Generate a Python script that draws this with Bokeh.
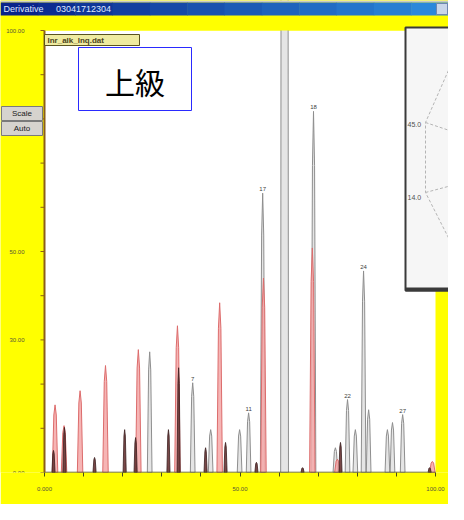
from bokeh.plotting import figure
from bokeh.models import Range1d, FixedTicker, ColumnDataSource
from bokeh.core.properties import value
from bokeh.embed import file_html
from bokeh.resources import INLINE

# ---------------- data ----------------
red_pos = [2.7, 5.0, 9.1, 15.6, 24.0, 34.0, 44.8, 56.0, 68.5, 74.9, 99.2]
red_height = [15.3, 10.6, 18.5, 24.2, 27.8, 33.2, 38.4, 44.0, 50.8, 3.0, 2.5]

gray_pos = [26.9, 37.9, 42.5, 49.9, 52.2, 55.8, 61.4, 68.8, 74.4, 77.5, 79.5,
            81.6, 82.9, 87.7, 89.0, 91.6]
gray_height = [27.3, 20.3, 9.7, 9.7, 13.5, 63.2, 115.0, 81.7, 5.6, 16.5, 9.7,
               45.6, 14.2, 9.7, 11.3, 13.1]

dark_pos = [2.3, 5.1, 12.8, 20.5, 23.3, 31.7, 34.3, 41.2, 46.3, 54.2, 66.0, 75.7, 98.5]
dark_height = [5.0, 10.2, 3.4, 9.7, 7.9, 9.7, 23.7, 5.6, 6.8, 2.3, 1.1, 6.8, 1.1]

peak_label_pos = [37.9, 52.2, 55.8, 68.8, 77.5, 81.6, 91.6]
peak_label_height = [20.3, 13.5, 63.2, 81.7, 16.5, 45.6, 13.1]
peak_label_text = ["7", "11", "17", "18", "22", "24", "27"]

y_ticks = [0, 10, 20, 30, 40, 50, 60, 70, 80, 90, 100]
y_tick_labels = {0: "0.00", 30: "30.00", 50: "50.00", 100: "100.00"}
x_ticks = [0, 10, 20, 30, 40, 50, 60, 70, 80, 90, 100]
x_tick_labels = {0: "0.000", 50: "50.00", 100: "100.00"}

window_title = "Derivative\u00a0\u00a0\u00a0\u00a0 03041712304"
file_label = "lnr_alk_lnq.dat"
badge_text = "上級"
button_labels = ["Scale", "Auto"]
polar_labels = ["45.0", "14.0"]

# ---------------- layout (canvas pixels) ----------------
W, H = 448, 504
PLOT_L, PLOT_R, PLOT_T, PLOT_B = 44, 435, 30, 472
SX = (PLOT_R - PLOT_L) / (x_ticks[-1] - x_ticks[0])
SY = (PLOT_B - PLOT_T) / (y_ticks[-1] - y_ticks[0])

FONT = "Liberation Sans"
YELLOW = "#ffff00"

p = figure(width=W, height=H, output_backend="svg", toolbar_location=None,
           x_range=Range1d(x_ticks[0] - PLOT_L / SX, x_ticks[0] + (W - PLOT_L) / SX),
           y_range=Range1d(y_ticks[0], y_ticks[-1] + PLOT_T / SY),
           min_border_left=0, min_border_right=0, min_border_top=0, min_border_bottom=H - PLOT_B)
p.background_fill_color = YELLOW
p.border_fill_color = YELLOW
p.outline_line_color = None
p.xgrid.visible = False
p.ygrid.visible = False
p.yaxis.visible = False

# real x axis (ticks + labels); its line is drawn only over the plot width below
p.xaxis.ticker = FixedTicker(ticks=x_ticks)
p.xaxis.major_label_overrides = {t: x_tick_labels.get(t, "") for t in x_ticks}
p.xaxis.axis_line_color = None
p.xaxis.minor_tick_line_color = None
p.xaxis.major_tick_in = 0
p.xaxis.major_tick_out = 4
p.xaxis.major_tick_line_color = "#4a4a18"
p.xaxis.major_label_standoff = 10
p.xaxis.major_label_text_font = FONT
p.xaxis.major_label_text_font_size = "6px"
p.xaxis.major_label_text_color = "#55553a"


def X(px):
    return x_ticks[0] + (px - PLOT_L) / SX


def Y(py):
    return y_ticks[0] + (PLOT_B - py) / SY


def box(l, t, r, b, fill, line=None, lw=1):
    p.quad(left=X(l), right=X(r), top=Y(t), bottom=Y(b), fill_color=fill,
           line_color=line, line_width=lw)


def txt(x, y, s, size, color, align="left", font=FONT, style="normal"):
    p.text(x=[X(x)], y=[Y(y)], text=[s], text_font=value(font), text_font_size=size,
           text_color=color, text_align=align, text_baseline="middle", text_font_style=style)


def dashed(points, color="#b4b4b4"):
    p.line(x=[X(a) for a, b in points], y=[Y(b) for a, b in points], line_color=color,
           line_width=1, line_dash="3 2")


# white plot area
p.quad(left=x_ticks[0], right=x_ticks[-1], bottom=y_ticks[0], top=y_ticks[-1],
       fill_color="white", line_color=None)


def peak_shapes(pos, height, half):
    xs, ys = [], []
    for x, h in zip(pos, height):
        xs.append([x - half, x - half * 0.45, x, x + half * 0.45, x + half])
        ys.append([0, h * 0.85, h, h * 0.85, 0])
    return xs, ys


gx, gy = peak_shapes(gray_pos, gray_height, 0.6)
big = gray_height.index(max(gray_height))  # broad saturated main peak
gx[big] = [gray_pos[big] - 1.0, gray_pos[big] - 0.9, gray_pos[big] + 0.9, gray_pos[big] + 1.0]
gy[big] = [0, gray_height[big], gray_height[big], 0]
p.patches(xs=gx, ys=gy, fill_color="#e2e2e2", fill_alpha=0.9, line_color="#8e8e8e", line_width=1)

rx, ry = peak_shapes(red_pos, red_height, 0.7)
p.patches(xs=rx, ys=ry, fill_color="#f4a8a8", fill_alpha=0.85, line_color="#dc6c6c", line_width=1)

dx, dy = peak_shapes(dark_pos, dark_height, 0.4)
p.patches(xs=dx, ys=dy, fill_color="#6a3434", fill_alpha=0.9, line_color="#3a2020", line_width=0.8)

lab_src = ColumnDataSource(dict(x=peak_label_pos, y=peak_label_height, t=peak_label_text))
p.text(x="x", y="y", text="t", source=lab_src, text_font=value(FONT), text_font_size="6px",
       text_color="#404040", text_align="center", text_baseline="bottom", y_offset=-2)

# yellow mask above the plot area (the main peak is off scale)
p.quad(left=X(0), right=X(W), bottom=y_ticks[-1], top=Y(0), fill_color=YELLOW, line_color=None)

# baseline (x axis line) over the plot width
p.segment(x0=x_ticks[0], y0=y_ticks[0], x1=x_ticks[-1], y1=y_ticks[0], line_color="#4a4a18", line_width=1.5)

# y axis drawn through the scales: line, outward ticks, labels
AX = "#8b5e1a"
p.segment(x0=x_ticks[0], y0=y_ticks[0], x1=x_ticks[0], y1=y_ticks[-1], line_color=AX, line_width=2)
p.segment(x0=[x_ticks[0]] * len(y_ticks), y0=y_ticks, x1=[x_ticks[0] - 4 / SX] * len(y_ticks),
          y1=y_ticks, line_color=AX, line_width=1)
yl = [t for t in y_ticks if t in y_tick_labels]
p.text(x=[x_ticks[0] - 20 / SX] * len(yl), y=yl, text=[y_tick_labels[t] for t in yl],
       text_font=value(FONT), text_font_size="6px", text_color="#55553a",
       text_align="right", text_baseline="middle")

# file legend box
box(44, 34, 139, 45, "#efeba0", "#5a5420")
txt(47, 39.5, file_label, "8px", "#4a4220", style="bold")

# 上級 badge
box(78, 47, 191, 110, "white", "#2a2aff", 1)
txt(134.5, 80, badge_text, "30px", "black", align="center", font="Noto Sans CJK JP")

# window top edge + gradient title bar
box(0, 0, W, 2, "#c8c8c8")
steps = 12
c0, c1 = (10, 36, 138), (44, 136, 218)
for i in range(steps):
    f = i / (steps - 1)
    col = "#%02x%02x%02x" % tuple(int(a + (b - a) * f) for a, b in zip(c0, c1))
    box(W * i / steps, 2, W * (i + 1) / steps + 0.5, 15, col)
txt(3, 8.5, window_title, "9px", "#dfe8ff")
box(436, 3, 447, 14, "#c9d6ea", "#6f86b0")

# Scale / Auto buttons
box(1, 106, 42, 120, "#d6d3ce", "#7a7a7a")
box(1, 121, 42, 135, "#d6d3ce", "#7a7a7a")
txt(21.5, 113, button_labels[0], "8px", "#202020", align="center")
txt(21.5, 128, button_labels[1], "8px", "#202020", align="center")

# polar inset (cut off by the window edge)
box(405, 27, 452, 290, "#f6f6f6", "#3a3a3a", 2)
box(405, 287, 452, 291, "#3a3a3a")
dashed([(458, 47), (425, 122), (425, 192), (458, 257)])
dashed([(425, 122), (455, 132)])
dashed([(425, 192), (455, 184)])
txt(407, 124, polar_labels[0], "7px", "#505050")
txt(407, 197, polar_labels[1], "7px", "#505050")

open("out.html", "w").write(file_html(p, INLINE))
